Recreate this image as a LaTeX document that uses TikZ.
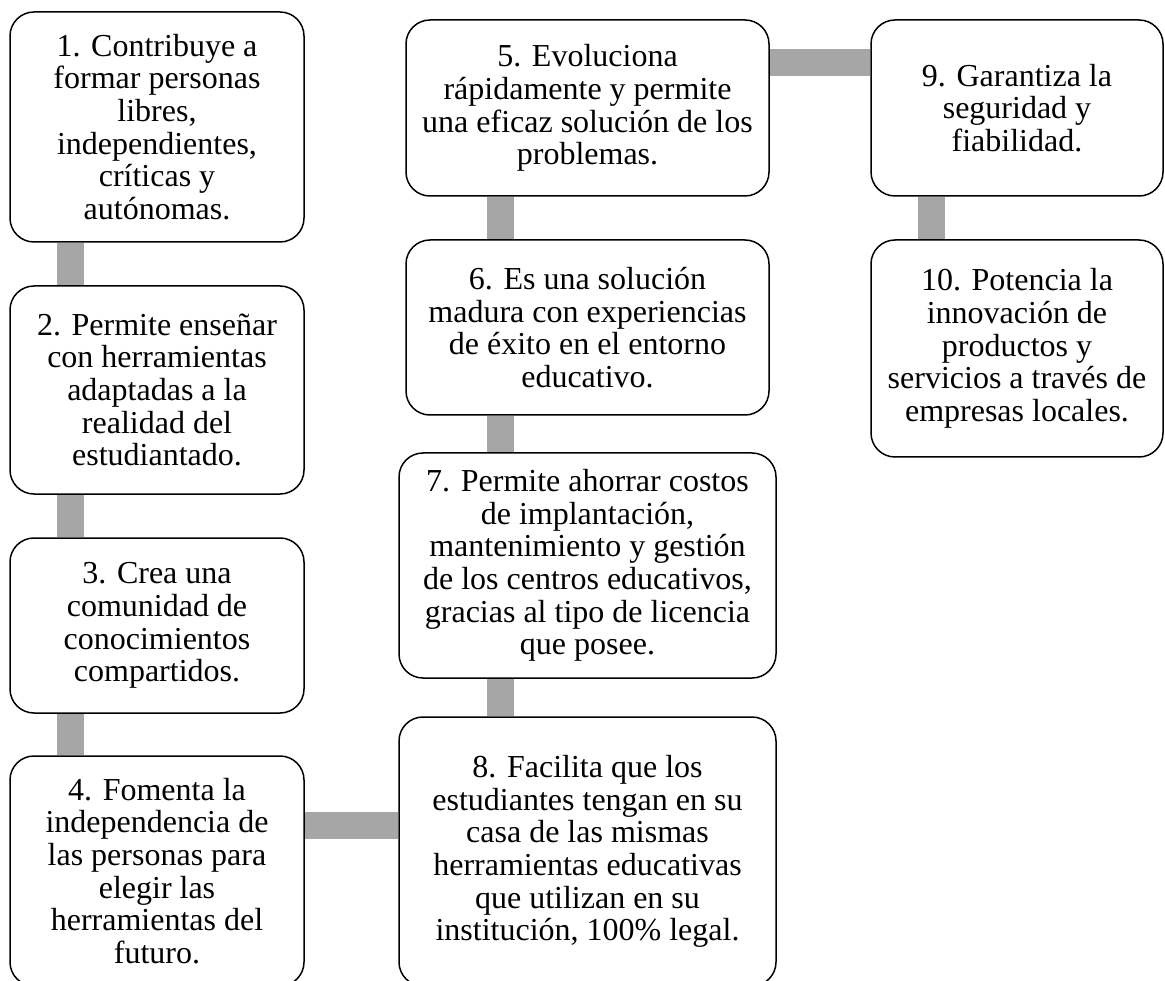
\documentclass[tikz,border=0pt]{standalone}
\usepackage{fontspec}
\setmainfont{Liberation Serif}
\usetikzlibrary{backgrounds}
\begin{document}
\begin{tikzpicture}[x=1pt, y=-1pt, every node/.style={font=\fontsize{32}{32.7}\selectfont},
  item/.style={draw, line width=1.5pt, rounded corners=24pt, fill=white, align=center, inner sep=0pt},
  bar/.style={draw=black!35, line width=27pt}]
\useasboundingbox (0,0) rectangle (1165,981);
\node[item, minimum width=294pt, minimum height=230pt] (b1) at (157,127) {1. Contribuye a\\ formar personas\\ libres,\\ independientes,\\ críticas y\\ autónomas.};
\node[item, minimum width=294pt, minimum height=208pt] (b2) at (157,390) {2. Permite enseñar\\ con herramientas\\ adaptadas a la\\ realidad del\\ estudiantado.};
\node[item, minimum width=294pt, minimum height=175pt] (b3) at (157,625.5) {3. Crea una\\ comunidad de\\ conocimientos\\ compartidos.};
\node[item, minimum width=294pt, minimum height=230pt] (b4) at (157,871) {4. Fomenta la\\ independencia de\\ las personas para\\ elegir las\\ herramientas del\\ futuro.};
\node[item, minimum width=363pt, minimum height=176pt] (b5) at (587.5,108) {5. Evoluciona\\ rápidamente y permite\\ una eficaz solución de los\\ problemas.};
\node[item, minimum width=363pt, minimum height=175pt] (b6) at (587.5,327.5) {6. Es una solución\\ madura con experiencias\\ de éxito en el entorno\\ educativo.};
\node[item, minimum width=377pt, minimum height=225pt] (b7) at (587.5,565.5) {7. Permite ahorrar costos\\ de implantación,\\ mantenimiento y gestión\\ de los centros educativos,\\ gracias al tipo de licencia\\ que posee.};
\node[item, minimum width=377pt, minimum height=269pt] (b8) at (587.5,851.5) {8. Facilita que los\\ estudiantes tengan en su\\ casa de las mismas\\ herramientas educativas\\ que utilizan en su\\ institución, 100\% legal.};
\node[item, minimum width=292pt, minimum height=176pt] (b9) at (1017,108) {9. Garantiza la\\ seguridad y\\ fiabilidad.};
\node[item, minimum width=292pt, minimum height=217pt] (b10) at (1017,348.5) {10. Potencia la\\ innovación de\\ productos y\\ servicios a través de\\ empresas locales.};

% lines where the gray bars run
\coordinate (col1) at (70.5,0);
\coordinate (col2) at (500.5,0);
\coordinate (col3) at (931,0);
\coordinate (row1) at (0,63);
\coordinate (row4) at (0,825);

\begin{scope}[on background layer]
\draw[bar] (b1.south -| col1) -- (b2.north -| col1);
\draw[bar] (b2.south -| col1) -- (b3.north -| col1);
\draw[bar] (b3.south -| col1) -- (b4.north -| col1);
\draw[bar] (b4.east |- row4) -- (b8.west |- row4);
\draw[bar] (b8.north -| col2) -- (b7.south -| col2);
\draw[bar] (b7.north -| col2) -- (b6.south -| col2);
\draw[bar] (b6.north -| col2) -- (b5.south -| col2);
\draw[bar] (b5.east |- row1) -- (b9.west |- row1);
\draw[bar] (b9.south -| col3) -- (b10.north -| col3);
\end{scope}
\end{tikzpicture}
\end{document}
